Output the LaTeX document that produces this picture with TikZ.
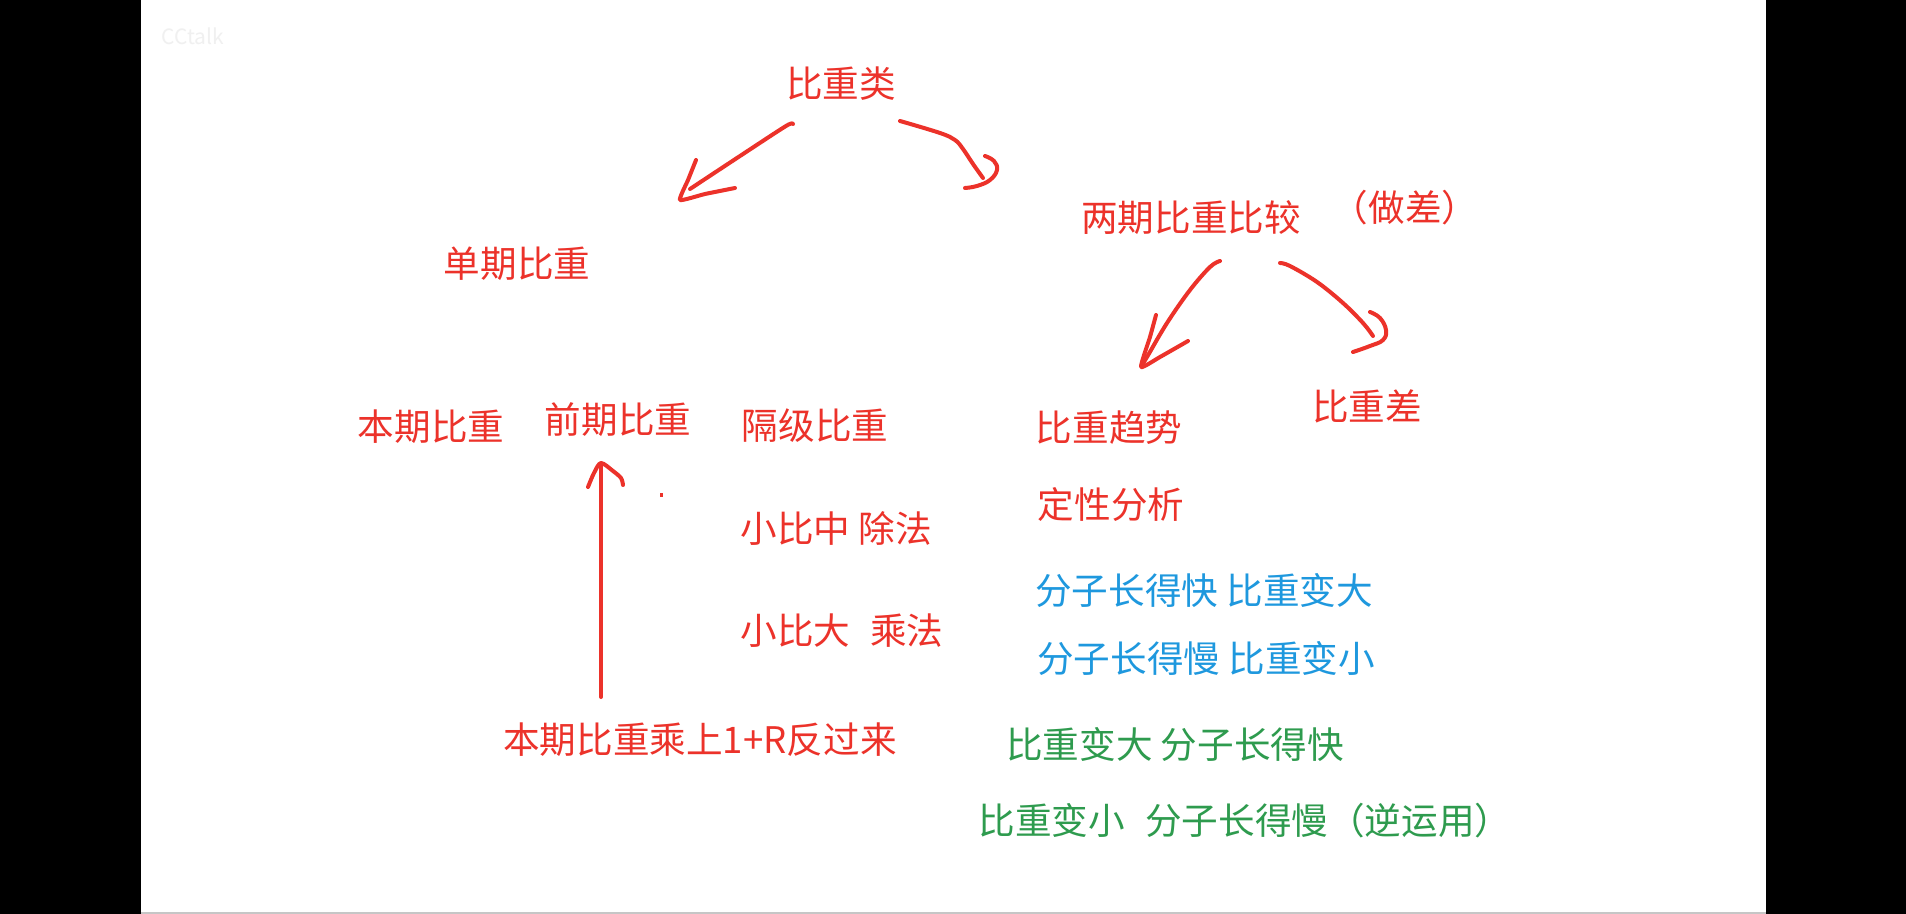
\documentclass[tikz,border=0pt]{standalone}
\usepackage{fontspec}
\setmainfont{Noto Sans CJK SC}
\definecolor{myred}{RGB}{236,50,42}
\definecolor{myblue}{RGB}{30,152,222}
\definecolor{mygreen}{RGB}{46,155,78}
\begin{document}
\begin{tikzpicture}[x=0.5pt,y=-0.5pt,
  lbl/.style={inner sep=0pt,font=\fontsize{18.3}{20}\selectfont},
  rtxt/.style={lbl,text=myred},
  btxt/.style={lbl,text=myblue},
  gtxt/.style={lbl,text=mygreen},
  stroke/.style={draw=myred,line width=2pt,line cap=round,line join=round}]
\useasboundingbox (0,0) rectangle (1906,914);
\fill[white] (0,0) rectangle (1906,914);
\fill[black] (0,0) rectangle (141,914);
\fill[black] (1766,0) rectangle (1906,914);
\draw[gray!45, line width=1pt] (141,913) -- (1766,913);
\node[font=\fontsize{10.5}{12}\selectfont, text=gray!12, inner sep=0pt] (wm) at (193,36) {CCtalk};

% texts
\node[rtxt] (root) at (841,84) {比重类};
\node[rtxt] (single) at (517,264) {单期比重};
\node[rtxt] (two) at (1191,218) {两期比重比较};
\node[rtxt] (diff) at (1405,208) {（做差）};
\node[rtxt] (cur) at (431,427) {本期比重};
\node[rtxt] (prev) at (618,420) {前期比重};
\node[rtxt] (gap) at (815,426) {隔级比重};
\node[rtxt] (div) at (836,528) {小比中 除法};
\node[rtxt] (mul) at (842,631) {小比大\hspace{0.55em}乘法};
\node[rtxt] (back) at (700,740) {本期比重乘上1+R反过来};
\node[rtxt] (trend) at (1109,428) {比重趋势};
\node[rtxt] (qual) at (1111,505) {定性分析};
\node[rtxt] (sub) at (1367,406) {比重差};
\node[btxt] (b1) at (1204,590) {分子长得快 比重变大};
\node[btxt] (b2) at (1206,658) {分子长得慢 比重变小};
\node[gtxt] (g1) at (1175,744) {比重变大 分子长得快};
\node[gtxt] (g2) at (1245,821) {比重变小\hspace{0.55em}分子长得慢（逆运用）};

% hand-drawn arrows
% root -> single
\draw[stroke] plot[smooth,tension=0.5] coordinates {(793,124) (786,126) (740,156) (690,189)};
\draw[stroke] plot[smooth,tension=0.3] coordinates {(696,160) (688,180) (680,200) (705,194) (735,188)};
% root -> two
\draw[stroke] plot[smooth,tension=0.6] coordinates {(900,121) (940,133) (955,140) (963,149) (973,164) (983,178)};
\draw[stroke] plot[smooth,tension=0.7] coordinates {(985,156) (994,161) (997,170) (990,180) (977,186) (965,188)};
% two -> trend
\draw[stroke] plot[smooth,tension=0.6] coordinates {(1220,261) (1210,267) (1190,290) (1167,323) (1147,357) (1142,365)};
\draw[stroke] plot[smooth,tension=0.3] coordinates {(1156,315) (1150,337) (1141,367) (1160,357) (1188,341)};
% two -> sub
\draw[stroke] plot[smooth,tension=0.6] coordinates {(1280,263) (1290,266) (1317,282) (1343,303) (1363,323) (1373,336)};
\draw[stroke] plot[smooth,tension=0.7] coordinates {(1370,312) (1380,318) (1386,330) (1383,340) (1370,346) (1353,352)};
% back -> prev
\draw[stroke] (601,697) -- (601,464);
\draw[stroke] plot[smooth,tension=0.5] coordinates {(588,487) (594,473) (601,463) (613,471) (621,478) (623,485)};
\fill[myred] (660,493) rectangle (663,497);
\end{tikzpicture}
\end{document}
